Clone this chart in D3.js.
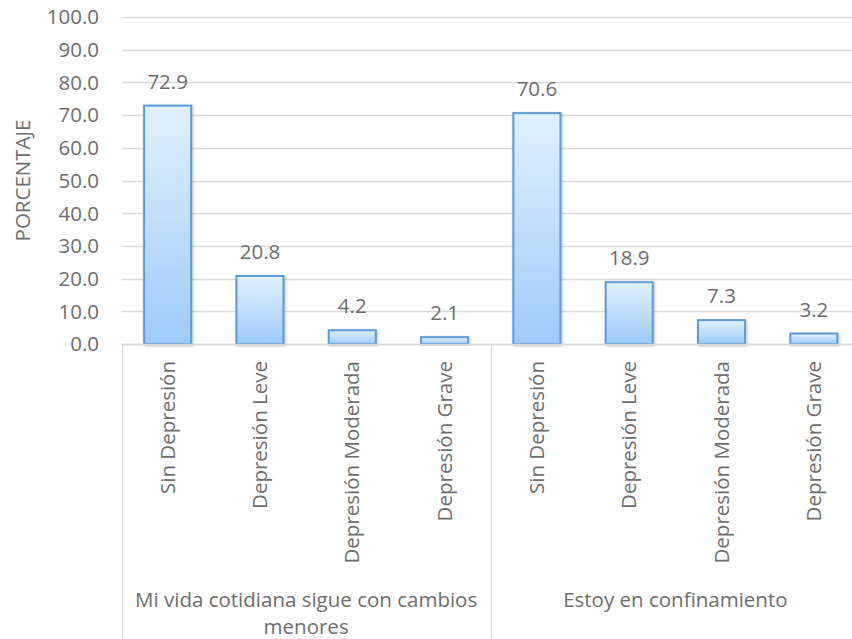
<!DOCTYPE html>
<html>
<head>
<meta charset="utf-8">
<script src="https://cdn.jsdelivr.net/npm/d3@7/dist/d3.min.js"></script>
<style>
  html, body { margin: 0; padding: 0; background: #fff; }
  svg { display: block; }
  text { font-family: "Open Sans", "Noto Sans", sans-serif; fill: #6e6e6e; }
</style>
</head>
<body>
<svg id="chart" width="852" height="639"></svg>
<script>
// Percentages by depression level, for each situation group
const groups = ["Mi vida cotidiana sigue con cambios menores", "Estoy en confinamiento"];
const groupLines = [["Mi vida cotidiana sigue con cambios", "menores"], ["Estoy en confinamiento"]];
const categories = ["Sin Depresión", "Depresión Leve", "Depresión Moderada", "Depresión Grave"];
const valuesCotidiana = [72.9, 20.8, 4.2, 2.1];
const valuesConfinamiento = [70.6, 18.9, 7.3, 3.2];
const yTicks = [0, 10, 20, 30, 40, 50, 60, 70, 80, 90, 100];
const yTitle = "PORCENTAJE";

const seriesByGroup = [valuesCotidiana, valuesConfinamiento];

const W = 852, H = 639;
const plot = { left: 121.5, right: 860, top: 17, bottom: 344 };
const FS = "20.5px";

const svg = d3.select("#chart");
const defs = svg.append("defs");

const grad = defs.append("linearGradient")
  .attr("id", "barFill").attr("x1", 0).attr("y1", 0).attr("x2", 0).attr("y2", 1);
grad.append("stop").attr("offset", "0%").attr("stop-color", "#e2f0fe");
grad.append("stop").attr("offset", "100%").attr("stop-color", "#9dcbfa");

const shadow = defs.append("filter").attr("id", "barShadow")
  .attr("x", "-20%").attr("y", "-20%").attr("width", "140%").attr("height", "140%");
shadow.append("feDropShadow").attr("dx", 1).attr("dy", 1)
  .attr("stdDeviation", 1.5).attr("flood-color", "#000").attr("flood-opacity", 0.25);

const y = d3.scaleLinear().domain([0, 100]).range([plot.bottom, plot.top]);
const xGroup = d3.scaleBand().domain(groups).range([plot.left, plot.right]).padding(0);
const xCat = d3.scaleBand().domain(categories).range([0, xGroup.bandwidth()])
  .paddingInner(0.49).paddingOuter(0.245);

// Horizontal gridlines
svg.append("g").selectAll("line").data(yTicks).join("line")
  .attr("x1", plot.left).attr("x2", W)
  .attr("y1", d => Math.round(y(d)) + 0.5).attr("y2", d => Math.round(y(d)) + 0.5)
  .attr("stroke", "#d9d9d9").attr("stroke-width", 1.3);

// Y axis tick labels
svg.append("g").selectAll("text").data(yTicks).join("text")
  .attr("x", 99).attr("y", d => y(d))
  .attr("dy", "0.36em")
  .attr("text-anchor", "end")
  .style("font-size", FS)
  .text(d => d.toFixed(1));

// Y axis title
svg.append("text")
  .attr("transform", `translate(30,${(plot.top + plot.bottom) / 2}) rotate(-90)`)
  .attr("text-anchor", "middle")
  .style("font-size", "20.5px")
  .text(yTitle);

// Category axis: vertical separators between groups
const sepXs = [plot.left, xGroup.range()[0] + xGroup.bandwidth()];
svg.append("g").selectAll("line").data(sepXs).join("line")
  .attr("x1", d => Math.round(d) + 0.5).attr("x2", d => Math.round(d) + 0.5)
  .attr("y1", plot.bottom).attr("y2", H)
  .attr("stroke", "#d9d9d9").attr("stroke-width", 1.3);

// Bars, value labels and category labels per group
groups.forEach((g, gi) => {
  const gx = xGroup(g);
  const gSel = svg.append("g").attr("transform", `translate(${gx},0)`);
  const data = categories.map((c, i) => ({ c, v: seriesByGroup[gi][i] }));

  gSel.selectAll("rect").data(data).join("rect")
    .attr("x", d => xCat(d.c))
    .attr("y", d => y(d.v))
    .attr("width", xCat.bandwidth())
    .attr("height", d => y(0) - y(d.v))
    .attr("fill", "url(#barFill)")
    .attr("stroke", "#5b9bd5")
    .attr("stroke-width", 2)
    .attr("filter", "url(#barShadow)");

  gSel.selectAll("text.value").data(data).join("text")
    .attr("class", "value")
    .attr("x", d => xCat(d.c) + xCat.bandwidth() / 2)
    .attr("y", d => y(d.v) - 17)
    .attr("text-anchor", "middle")
    .style("font-size", FS)
    .text(d => d.v.toFixed(1));

  gSel.selectAll("text.cat").data(data).join("text")
    .attr("class", "cat")
    .attr("transform", d => `translate(${xCat(d.c) + xCat.bandwidth() / 2 + 7},361) rotate(-90)`)
    .attr("text-anchor", "end")
    .style("font-size", FS)
    .text(d => d.c);

  const lbl = gSel.append("text")
    .attr("text-anchor", "middle")
    .style("font-size", FS);
  groupLines[gi].forEach((line, li) => {
    lbl.append("tspan")
      .attr("x", xGroup.bandwidth() / 2)
      .attr("y", 607 + li * 27)
      .text(line);
  });
});

// Baseline of the value axis
svg.append("line")
  .attr("x1", plot.left).attr("x2", W)
  .attr("y1", Math.round(y(0)) + 0.5).attr("y2", Math.round(y(0)) + 0.5)
  .attr("stroke", "#d9d9d9").attr("stroke-width", 1.3);
</script>
</body>
</html>
